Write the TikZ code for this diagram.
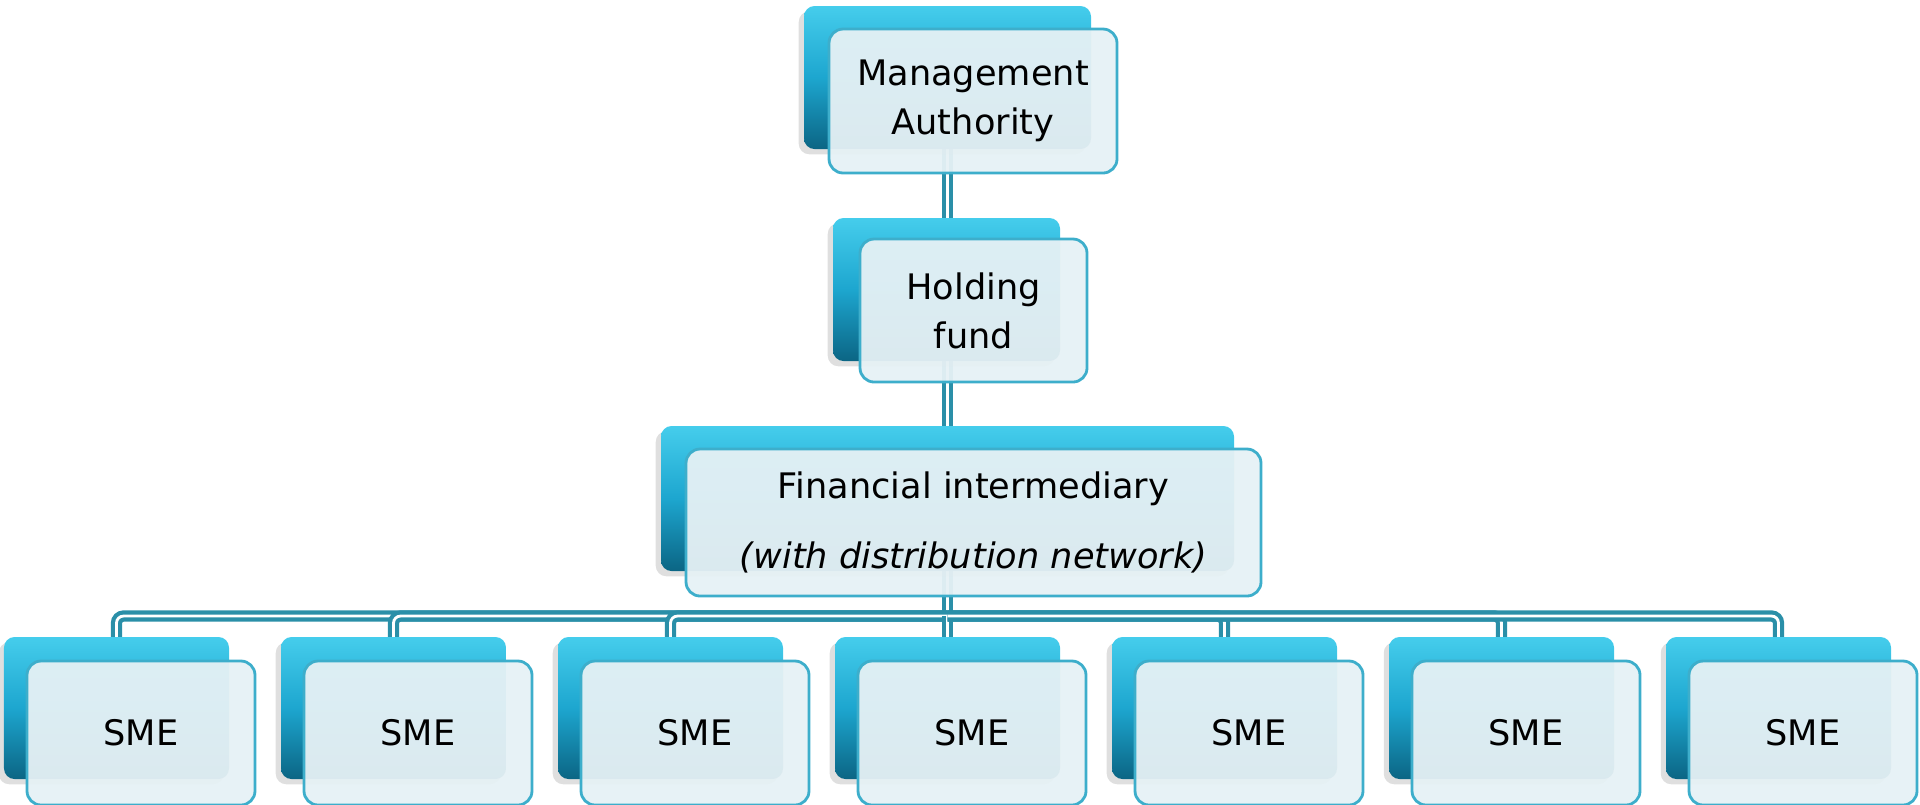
\documentclass[tikz,border=0pt]{standalone}
\usepackage{fontspec}
\setmainfont{DejaVu Sans}
\usetikzlibrary{backgrounds, shadows}

\begin{document}
\begin{tikzpicture}[
  backbox/.style={rounded corners=3pt, inner sep=0pt, top color=boxtop, bottom color=boxdark, middle color=boxmid,
    drop shadow={shadow xshift=-1.5pt, shadow yshift=-1.5pt, opacity=0.25}},
  frontbox/.style={rounded corners=4pt, inner sep=0pt, draw=boxline, line width=0.8pt, fill=boxfront,
    fill opacity=0.95, text opacity=1, align=center, font=\fontsize{10}{14}\selectfont},
  link/.style={draw=linkc, line width=1.2pt, double=white, double distance=0.8pt, rounded corners=2pt}
]

% Define colors
\definecolor{boxtop}{HTML}{45CDEC}
\definecolor{boxmid}{HTML}{1DA6CF}
\definecolor{boxdark}{HTML}{0B6584}
\definecolor{boxline}{HTML}{3DAECB}
\definecolor{boxfront}{HTML}{E6F1F5}
\definecolor{linkc}{HTML}{2A8FA8}

\useasboundingbox (0,0) rectangle (19.2,-8.04);

% Management authority
\node[backbox, minimum width=2.87cm, minimum height=1.43cm] (ma) at (9.475,-0.775) {};
\node[frontbox, minimum width=2.88cm, minimum height=1.44cm] (maf) at (9.73,-1.01) {Management\\Authority};

% Holding fund
\node[backbox, minimum width=2.27cm, minimum height=1.43cm] (hold) at (9.465,-2.895) {};
\node[frontbox, minimum width=2.27cm, minimum height=1.43cm] (holdf) at (9.735,-3.105) {Holding\\fund};

% Financial intermediary
\node[backbox, minimum width=5.73cm, minimum height=1.45cm] (fi) at (9.475,-4.985) {};
\node[frontbox, minimum width=5.75cm, minimum height=1.47cm] (fif) at (9.735,-5.225)
  {Financial intermediary\\[6pt]\textit{(with distribution network)}};

% The SMEs
\node[backbox, minimum width=2.25cm, minimum height=1.42cm] (sme1) at (1.165,-7.08) {};
\node[frontbox, minimum width=2.28cm, minimum height=1.44cm] (sme1f) at (1.41,-7.33) {SME};
\node[backbox, minimum width=2.25cm, minimum height=1.42cm] (sme2) at (3.935,-7.08) {};
\node[frontbox, minimum width=2.28cm, minimum height=1.44cm] (sme2f) at (4.18,-7.33) {SME};
\node[backbox, minimum width=2.25cm, minimum height=1.42cm] (sme3) at (6.705,-7.08) {};
\node[frontbox, minimum width=2.28cm, minimum height=1.44cm] (sme3f) at (6.95,-7.33) {SME};
\node[backbox, minimum width=2.25cm, minimum height=1.42cm] (sme4) at (9.475,-7.08) {};
\node[frontbox, minimum width=2.28cm, minimum height=1.44cm] (sme4f) at (9.72,-7.33) {SME};
\node[backbox, minimum width=2.25cm, minimum height=1.42cm] (sme5) at (12.245,-7.08) {};
\node[frontbox, minimum width=2.28cm, minimum height=1.44cm] (sme5f) at (12.49,-7.33) {SME};
\node[backbox, minimum width=2.25cm, minimum height=1.42cm] (sme6) at (15.015,-7.08) {};
\node[frontbox, minimum width=2.28cm, minimum height=1.44cm] (sme6f) at (15.26,-7.33) {SME};
\node[backbox, minimum width=2.25cm, minimum height=1.42cm] (sme7) at (17.785,-7.08) {};
\node[frontbox, minimum width=2.28cm, minimum height=1.44cm] (sme7f) at (18.03,-7.33) {SME};

% Connectors behind the boxes
\coordinate (bus) at (9.475,-6.16);
\begin{pgfonlayer}{background}
\draw[link] (ma.center) -- (bus);
\draw[link] (bus) -| (sme1.center);
\draw[link] (bus) -| (sme2.center);
\draw[link] (bus) -| (sme3.center);
\draw[link] (bus) -- (sme4.center);
\draw[link] (bus) -| (sme5.center);
\draw[link] (bus) -| (sme6.center);
\draw[link] (bus) -| (sme7.center);
\end{pgfonlayer}

\end{tikzpicture}
\end{document}
